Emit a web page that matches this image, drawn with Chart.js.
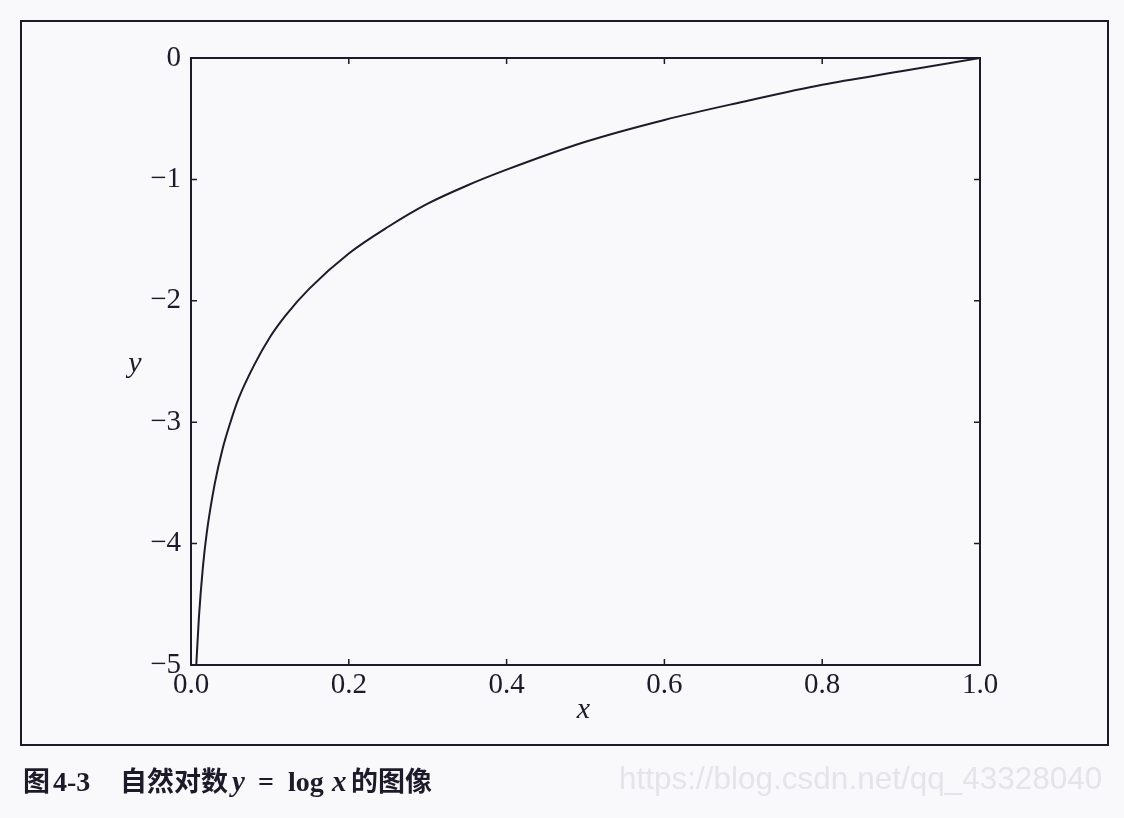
<!DOCTYPE html>
<html>
<head>
<meta charset="utf-8">
<script src="https://cdn.jsdelivr.net/npm/chart.js@4.4.1/dist/chart.umd.min.js"></script>
<style>
  html, body { margin: 0; padding: 0; background: #f9f9fb; width: 1124px; height: 818px; overflow: hidden; }
  #wrap { position: absolute; left: 0; top: 0; width: 1124px; height: 818px; }
  #frame { position: absolute; left: 20px; top: 20px; width: 1085px; height: 722px; border: 2px solid #1d1b2a; }
  canvas { position: absolute; left: 0; top: 0; }
  #caption { position: absolute; left: 23px; top: 765px; font-family: "Noto Sans CJK SC", sans-serif; font-size: 27px; line-height: 30px; color: #1d1b2a; white-space: nowrap; }
  #caption span { display: inline-block; vertical-align: baseline; }
  #caption .b { font-weight: bold; }
  #caption .m { font-family: "Liberation Serif", serif; font-style: italic; font-weight: bold; font-size: 29px; }
  #caption .lg { font-family: "Liberation Serif", serif; font-weight: bold; font-size: 28px; }
  #watermark { position: absolute; left: 619px; top: 760px; font-family: "Liberation Sans", sans-serif; font-size: 31.5px; color: #e4e4ea; white-space: nowrap; }
</style>
</head>
<body>
<div id="wrap">
  <div id="frame"></div>
  <canvas id="c" width="1124" height="818"></canvas>
  <div id="caption"><span class="b" style="width:30px">图</span><span class="lg" style="width:67px">4-3</span><span class="b" style="width:112px">自然对数</span><span class="m" style="width:26px">y</span><span class="lg" style="width:30px">=</span><span class="lg" style="width:44px">log</span><span class="m" style="width:19px">x</span><span class="b">的图像</span></div>
  <div id="watermark">https://blog.csdn.net/qq_43328040</div>
</div>
<script>
// Values
const xValues = [0.0067, 0.01, 0.015, 0.02, 0.03, 0.04, 0.05, 0.06, 0.08, 0.10, 0.12, 0.15, 0.20, 0.25, 0.30, 0.35, 0.40, 0.50, 0.60, 0.70, 0.80, 0.90, 1.00];
const yValues = [-5.00, -4.61, -4.20, -3.91, -3.51, -3.22, -3.00, -2.81, -2.53, -2.30, -2.12, -1.90, -1.61, -1.39, -1.20, -1.05, -0.92, -0.69, -0.51, -0.36, -0.22, -0.11, 0.00];
const xTicks = [0.0, 0.2, 0.4, 0.6, 0.8, 1.0];
const yTicks = [0, -1, -2, -3, -4, -5];
const xTitle = "x";
const yTitle = "y";

const INK = "#1d1b2a";
const SERIF = "'Liberation Serif', 'DejaVu Serif', serif";

const points = xValues.map((x, i) => ({ x: x, y: yValues[i] }));

const framePlugin = {
  id: 'framePlugin',
  afterDraw(chart) {
    const { ctx, chartArea: a, scales } = chart;
    const xs = scales.x, ys = scales.y;
    ctx.save();
    ctx.strokeStyle = INK;
    ctx.lineWidth = 2;
    ctx.strokeRect(a.left, a.top, a.right - a.left, a.bottom - a.top);
    ctx.lineWidth = 1.5;
    const L = 6;
    xTicks.forEach(v => {
      const px = xs.getPixelForValue(v);
      ctx.beginPath();
      ctx.moveTo(px, a.bottom); ctx.lineTo(px, a.bottom - L);
      ctx.moveTo(px, a.top); ctx.lineTo(px, a.top + L);
      ctx.stroke();
    });
    yTicks.forEach(v => {
      const py = ys.getPixelForValue(v);
      ctx.beginPath();
      ctx.moveTo(a.left, py); ctx.lineTo(a.left + L, py);
      ctx.moveTo(a.right, py); ctx.lineTo(a.right - L, py);
      ctx.stroke();
    });
    ctx.fillStyle = INK;
    ctx.font = "italic 30px " + SERIF;
    ctx.textAlign = 'center';
    ctx.textBaseline = 'middle';
    ctx.fillText(xTitle, (a.left + a.right) / 2 - 2, a.bottom + 45);
    ctx.fillText(yTitle, a.left - 56, (a.top + a.bottom) / 2 + 3);
    ctx.restore();
  }
};

new Chart(document.getElementById('c'), {
  type: 'scatter',
  data: {
    datasets: [{
      data: points,
      showLine: true,
      borderColor: INK,
      borderWidth: 2,
      pointRadius: 0,
      cubicInterpolationMode: 'monotone',
      fill: false
    }]
  },
  options: {
    responsive: false,
    animation: false,
    devicePixelRatio: 1,
    layout: { padding: { left: 0, top: 58, right: 144, bottom: 0 } },
    plugins: { legend: { display: false }, tooltip: { enabled: false } },
    scales: {
      x: {
        type: 'linear', min: 0, max: 1,
        afterFit(s) { s.height = 153; },
        afterBuildTicks(s) { s.ticks = xTicks.map(v => ({ value: v })); },
        grid: { display: false, drawTicks: false },
        border: { display: false },
        ticks: {
          color: INK, padding: 3,
          font: { family: SERIF, size: 29 },
          callback: v => v.toFixed(1)
        }
      },
      y: {
        type: 'linear', min: -5, max: 0,
        afterFit(s) { s.width = 191; },
        afterBuildTicks(s) { s.ticks = yTicks.map(v => ({ value: v })); },
        grid: { display: false, drawTicks: false },
        border: { display: false },
        ticks: {
          color: INK, padding: 10,
          font: { family: SERIF, size: 29 },
          callback: v => (v < 0 ? '\u2212' + Math.abs(v) : String(v))
        }
      }
    }
  },
  plugins: [framePlugin]
});
</script>
</body>
</html>
